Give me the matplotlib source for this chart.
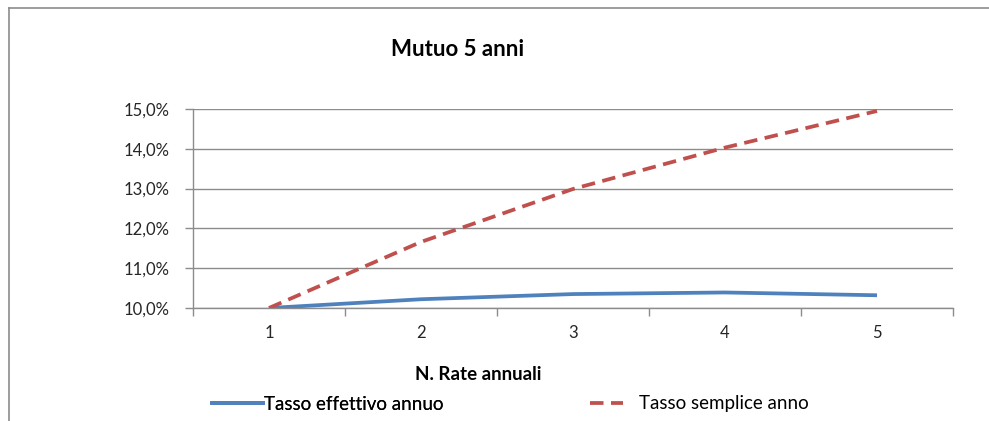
import matplotlib
matplotlib.use("Agg")
import matplotlib.pyplot as plt
from matplotlib.lines import Line2D
from matplotlib.ticker import FuncFormatter, FixedLocator

# --- Data ---
rate = [1, 2, 3, 4, 5]
tasso_effettivo = [10.00, 10.22, 10.35, 10.39, 10.32]
tasso_semplice = [10.00, 11.66, 12.99, 14.03, 14.95]
y_ticks = [10, 11, 12, 13, 14, 15]

blue = "#4F81BD"
red = "#C0504D"
grid_col = "#8C8C8C"
font = ["Lato", "DejaVu Sans"]
lw = 2.7
dash = (3.6, 2.0)

fig = plt.figure(figsize=(9.89, 4.21), dpi=100)
ax = fig.add_axes([193 / 989, 1 - 308 / 421, (953 - 193) / 989, (308 - 109) / 421])

ax.plot(rate, tasso_effettivo, color=blue, lw=lw, solid_capstyle="butt")
ax.plot(rate, tasso_semplice, color=red, lw=lw, dashes=dash)

ax.set_xlim(0.5, 5.5)
ax.set_ylim(10, 15)
ax.set_yticks(y_ticks)
ax.yaxis.set_major_formatter(FuncFormatter(lambda v, p: "{:.1f}%".format(v).replace(".", ",")))
ax.set_xticks(rate)
ax.xaxis.set_minor_locator(FixedLocator([0.5, 1.5, 2.5, 3.5, 4.5, 5.5]))
ax.tick_params(axis="x", which="major", length=0, pad=12, labelsize=12, labelcolor="#262626")
ax.tick_params(axis="x", which="minor", length=6, color=grid_col, width=1)
ax.tick_params(axis="y", length=6, color=grid_col, width=1, pad=11, labelsize=12, labelcolor="#262626")
for lab in ax.get_xticklabels() + ax.get_yticklabels():
    lab.set_family(font)

ax.grid(axis="y", color=grid_col, lw=1)
ax.set_axisbelow(True)
for s in ["top", "right"]:
    ax.spines[s].set_visible(False)
for s in ["left", "bottom"]:
    ax.spines[s].set_color(grid_col)
    ax.spines[s].set_linewidth(1)

# --- Texts ---
fig.text(458 / 989, 1 - 50 / 421, "Mutuo 5 anni", ha="center", va="center",
         fontsize=16, fontweight="bold", family=font)
fig.text(478 / 989, 1 - 375 / 421, "N. Rate annuali", ha="center", va="center",
         fontsize=13.5, fontweight="bold", family=font)

# --- Legend (two separate entries, as in the reference) ---
leg_font = {"family": font, "size": 13.5}
leg1 = fig.legend(handles=[Line2D([], [], color=blue, lw=lw)], labels=["Tasso effettivo annuo"],
                  loc="center left", bbox_to_anchor=(212 / 989, 1 - 404 / 421), frameon=False,
                  borderpad=0, borderaxespad=0, handlelength=2.7, handletextpad=0.1, prop=leg_font)
leg2 = fig.legend(handles=[Line2D([], [], color=red, lw=lw, dashes=dash)], labels=["Tasso semplice anno"],
                  loc="center left", bbox_to_anchor=(590 / 989, 1 - 404 / 421), frameon=False,
                  borderpad=0, borderaxespad=0, handlelength=1.75, handletextpad=0.85, prop=leg_font)
fig.add_artist(leg1)

# --- Outer frame (top and left edges visible) ---
fig.add_artist(Line2D([9 / 989, 1], [1 - 8 / 421, 1 - 8 / 421], transform=fig.transFigure, color=grid_col, lw=1.2))
fig.add_artist(Line2D([9 / 989, 9 / 989], [0, 1 - 8 / 421], transform=fig.transFigure, color=grid_col, lw=1.2))

fig.savefig("out.png", dpi=100)
